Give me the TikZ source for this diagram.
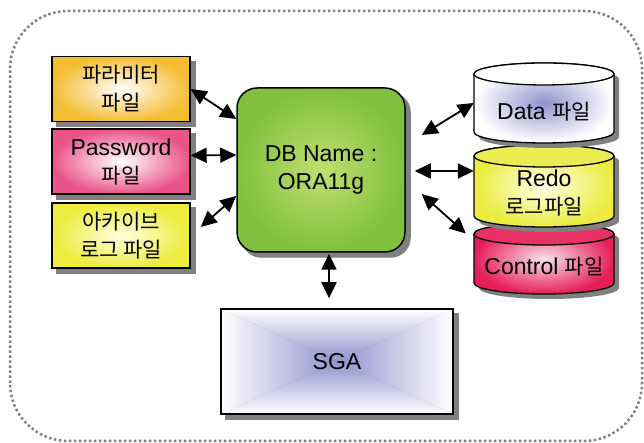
\documentclass[tikz,border=0pt]{standalone}
\usepackage{fontspec}
\setmainfont{Liberation Sans}
\newfontfamily\krfont{Noto Sans CJK KR}
\newcommand{\krt}[1]{{\krfont\fontsize{21}{28}\selectfont #1}}
\usetikzlibrary{arrows.meta}
\pgfdeclarelayer{background}
\pgfsetlayers{background,main}
\definecolor{shadowc}{RGB}{128,128,128}
\definecolor{paramc}{RGB}{244,190,52}
\definecolor{pwc}{RGB}{234,84,138}
\definecolor{archc}{RGB}{238,236,60}
\definecolor{archin}{RGB}{255,255,225}
\definecolor{greenout}{RGB}{128,192,62}
\definecolor{greenin}{RGB}{192,224,112}
\definecolor{lav}{RGB}{146,146,206}
\definecolor{redoout}{RGB}{236,236,64}
\definecolor{redoin}{RGB}{255,255,232}
\definecolor{redotop}{RGB}{236,236,80}
\definecolor{ctrlout}{RGB}{230,30,90}
\definecolor{ctrlin}{RGB}{250,225,235}
\definecolor{ctrltop}{RGB}{232,50,100}
\tikzset{
  rectgrad/.style 2 args={path picture={
    \path (path picture bounding box.north west) coordinate (rgA)
          (path picture bounding box.north east) coordinate (rgB)
          (path picture bounding box.south east) coordinate (rgC)
          (path picture bounding box.south west) coordinate (rgD)
          (path picture bounding box.center) coordinate (rgO);
    \begin{scope}\clip (rgA)--(rgB)--(rgO)--cycle;
      \shade[top color=#1,bottom color=#2] (rgA) rectangle (rgO -| rgB);\end{scope}
    \begin{scope}\clip (rgD)--(rgC)--(rgO)--cycle;
      \shade[top color=#2,bottom color=#1] (rgO -| rgD) rectangle (rgC);\end{scope}
    \begin{scope}\clip (rgA)--(rgD)--(rgO)--cycle;
      \shade[left color=#1,right color=#2] (rgA) rectangle (rgO |- rgD);\end{scope}
    \begin{scope}\clip (rgB)--(rgC)--(rgO)--cycle;
      \shade[left color=#2,right color=#1] (rgO |- rgB) rectangle (rgC);\end{scope}
  }},
  filebox/.style={draw=black, line width=1.4pt, minimum width=138, minimum height=65,
    inner sep=0pt, align=center},
  cyltext/.style={minimum width=140, minimum height=20, inner sep=0pt, align=center},
  biarr/.style={{Triangle[length=16pt,width=15pt]}-{Triangle[length=16pt,width=15pt]}, line width=1.8pt},
  every node/.style={font=\fontsize{23}{28}\selectfont}
}
\newcommand{\mycyl}[4]{%
  \fill[shadowc] (479,#1-16) -- (479,#2+6) arc[start angle=180,end angle=360,x radius=70,y radius=11]
     -- (619,#1-16) arc[start angle=0,end angle=180,x radius=70,y radius=11] -- cycle;
  \shadedraw[#3, draw=black, line width=1.3pt] (474,#1-11) -- (474,#2+11) arc[start angle=180,end angle=360,x radius=70,y radius=11]
     -- (614,#1-11) arc[start angle=0,end angle=180,x radius=70,y radius=11] -- cycle;
  \filldraw[fill=#4, draw=black, line width=1.3pt] (544,#1-11) ellipse[x radius=70, y radius=11];
}
\begin{document}
\begin{tikzpicture}[x=1pt,y=1pt]
\useasboundingbox (0,0) rectangle (644,443);
\draw[shadowc, line width=2.5pt, dash pattern=on 2.5pt off 2.5pt, rounded corners=58] (10,2) rectangle (642,432);

% left file boxes
\node[filebox, inner color=white, outer color=paramc] (param) at (121,354) {\krt{파라미터}\\\krt{파일}};
\node[filebox, inner color=white, outer color=pwc] (pw) at (121,281.5) {Password\\\krt{파일}};
\node[filebox, inner color=archin, outer color=archc] (arch) at (121,207.5) {\krt{아카이브}\\\krt{로그 파일}};

% central instance
\node[draw=black, line width=1.5pt, rounded corners=20, inner color=greenin, outer color=greenout,
      minimum width=168, minimum height=164, align=center, inner sep=0pt] (green) at (321,273)
      {DB Name :\\ORA11g};

% SGA
\node[draw=black, line width=1.5pt, rectgrad={white}{lav}, minimum width=232, minimum height=105,
      inner sep=0pt] (sga) at (337,81.5) {SGA};

% shadows
\begin{pgfonlayer}{background}
  \foreach \n in {param,pw,arch,sga}{
    \fill[shadowc] ([shift={(5,-5)}]\n.south west) rectangle ([shift={(5,-5)}]\n.north east);
  }
  \fill[shadowc, rounded corners=20] ([shift={(5,-5)}]green.south west) rectangle ([shift={(5,-5)}]green.north east);
\end{pgfonlayer}

% cylinders (bottom first)
\mycyl{220}{149}{inner color=ctrlin, outer color=ctrlout}{ctrltop}
\mycyl{298}{216}{inner color=redoin, outer color=redoout}{redotop}
\mycyl{380}{300}{inner color=lav, outer color=white}{white}

\node[cyltext] (data) at (544,331) {Data \krt{파일}};
\node[cyltext] (redo) at (544,250) {Redo\\\krt{로그파일}};
\node[cyltext] (ctrl) at (544,176) {Control \krt{파일}};

% connectors
\draw[biarr] (param.east) -- (green.149);
\draw[biarr] (pw.5) -- (green.170);
\draw[biarr] ([shift={(10,8.5)}]arch.east) -- (green.197);
\draw[biarr] ([shift={(16,35)}]green.east) -- ([shift={(0,9)}]data.west);
\draw[biarr] ([shift={(9,-1)}]green.east) -- ([shift={(0,22)}]redo.west);
\draw[biarr] ([shift={(16,-24)}]green.east) -- ([shift={(-8,33.5)}]ctrl.west);
\draw[biarr] ([shift={(8,-1)}]green.south) -- ([shift={(-8,10)}]sga.north);
\end{tikzpicture}
\end{document}
